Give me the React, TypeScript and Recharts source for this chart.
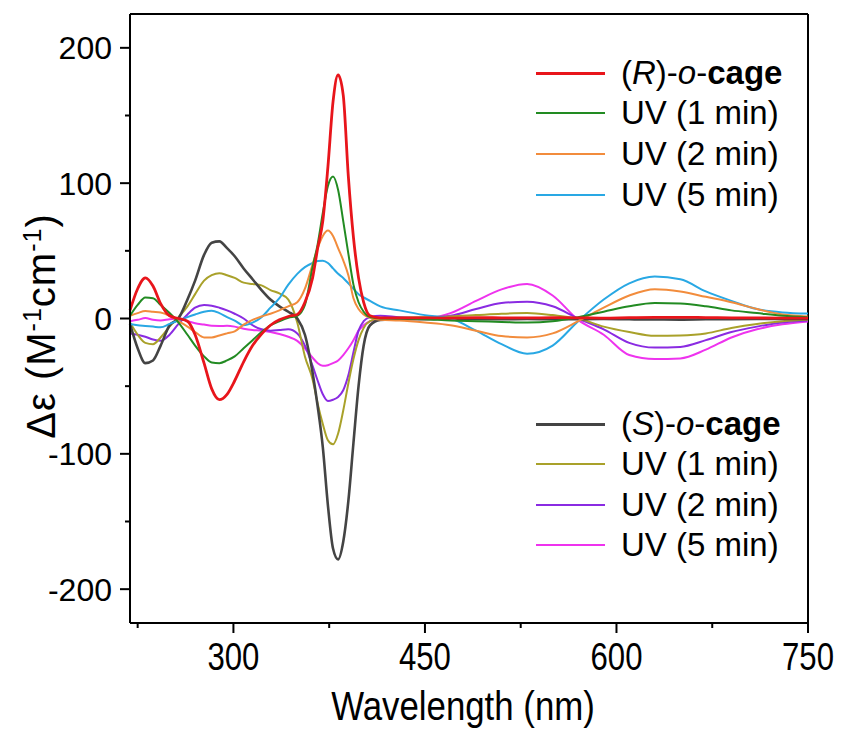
import React from 'react';
import { LineChart, Line, XAxis, YAxis, ReferenceLine } from 'recharts';

// wavelength grid (nm) shared by all spectra
const WAVELENGTH = [
  219, 225, 231, 237, 243, 250, 257, 264, 270, 277, 283, 289, 295, 301, 308, 315, 322, 329, 336, 343,
  350, 356, 362, 366, 370, 374, 378, 382, 386, 390, 394, 398, 402, 407, 415, 430, 450, 470, 490, 510,
  530, 550, 570, 590, 610, 630, 650, 670, 690, 710, 730, 750,
];

// (R)-o-cage and its UV-irradiated spectra
const R_CAGE = [
  6, 22, 30, 24, 11, 2, 0, -2, -12, -33, -52, -60, -56, -46, -32, -20, -11.5, -5, -1, 1.5,
  3, 12, 30, 52, 72, 112, 160, 180, 165, 105, 60, 30, 12, 2, 0.5, 0.5, 0.5, 0.3, 0.6, 0.5,
  0.4, 0.6, 0.5, 0.3, 0.6, 0.8, 0.9, 0.7, 0.5, 0.4, 0.3, 0.3,
];
const R_UV1 = [
  2, 10, 15.5, 15, 10, 4, -3, -12, -20, -28, -32.5, -33, -31, -28, -22, -16, -10, -5, -2, 0.5,
  2, 10, 38, 55, 78, 98, 105, 95, 72, 48, 25, 12, 5, 1, 0, 0, -0.5, -1.5, -2, -2.5,
  -3, -2, 1, 5, 9, 11.4, 11, 9, 6, 4, 2, 1,
];
const R_UV2 = [
  2, 4, 5.5, 5, 4.5, 2, -2, -6, -10, -14, -14, -12.5, -11, -9.5, -4.5, -1, 1.5, 3.5, 6, 9,
  12, 22, 40, 52, 61, 65, 61, 52, 43, 32, 15, 7, 3, 0.5, -1, -1.5, -3, -5, -9, -13,
  -14, -11, -2, 8, 17, 21.7, 20, 16, 12, 7, 3, 1.5,
];
const R_UV5 = [
  -4, -5, -5.5, -6, -6.5, -4, -1.5, 1, 3, 5, 5.7, 4, 1, -1.5, -5, -3, 1, 8, 15, 25,
  33, 38, 41, 42.5, 42.7, 41, 37, 33, 30, 26, 22, 18, 15.6, 13, 9, 6, 2.5, 0, -9, -19,
  -26, -20, -2, 14, 26, 31, 29, 20, 13, 7, 4.5, 3.7,
];

// (S)-o-cage and its UV-irradiated spectra
const S_CAGE = [
  -4, -22, -33, -31, -20, -5, 0, 14, 28, 47, 56, 57, 52, 46, 37, 29, 21, 14, 9, 5,
  0, -12, -40, -65, -95, -138, -170, -178, -165, -135, -92, -50, -20, -5, -1, -0.5, -0.5, -0.3, -0.5, -0.6,
  -0.4, -0.5, -0.5, -0.4, -0.6, -0.7, -0.8, -0.6, -0.5, -0.4, -0.3, -0.3,
];
const S_UV1 = [
  -3, -12, -18, -19, -14, -6, 1, 9, 18, 28, 32, 33.5, 32, 30, 26.5, 25.5, 24.5, 21, 18.5, 14,
  -3, -28, -45, -63, -78, -90, -93, -85, -68, -48, -30, -16, -7, -2, 0, 0.5, 1, 1.5, 2.5, 3.5,
  4, 2.5, 0, -6, -10, -12.8, -12.5, -11, -7, -4, -2, -1,
];
const S_UV2 = [
  -11, -12, -13.5, -15.5, -16.5, -12, -4, 3, 8, 10, 9.5, 8, 6, 3.5, 0, -5, -8, -9, -8.5, -8,
  -11, -20, -35, -46, -56, -61, -60, -58, -53, -42, -25, -9, -2, 1, 2, 1, 0.5, 2, 7, 11.5,
  12.4, 9, 0, -8, -18, -21.5, -21, -16, -10, -6, -3, -1.5,
];
const S_UV5 = [
  -2, -1, 0.3, -1, -1.5, -0.5, 0, -2, -3.5, -4.5, -5.4, -5.5, -5.4, -6, -7.5, -8.5, -9, -10, -11.5, -13.5,
  -16.5, -22, -29, -33, -35, -34.5, -33, -31, -27, -22, -16, -9, -5, -2, -0.5, -0.5, 0, 4, 13, 21.5,
  25.5, 17, -1, -12, -27, -30, -29.5, -23, -14, -8, -4.3, -2.2,
];

const X_TICKS = [225, 300, 375, 450, 525, 600, 675, 750];
const Y_TICKS = [-200, -150, -100, -50, 0, 50, 100, 150, 200];

const data = WAVELENGTH.map((wl, i) => ({
  wl,
  rCage: R_CAGE[i],
  rUv1: R_UV1[i],
  rUv2: R_UV2[i],
  rUv5: R_UV5[i],
  sCage: S_CAGE[i],
  sUv1: S_UV1[i],
  sUv2: S_UV2[i],
  sUv5: S_UV5[i],
}));

const series = [
  { key: 'sUv5', color: '#ee33ee', width: 2 },
  { key: 'sUv2', color: '#8a2be2', width: 2 },
  { key: 'sUv1', color: '#a9a12a', width: 2 },
  { key: 'sCage', color: '#444444', width: 2.6 },
  { key: 'rUv5', color: '#29a8e4', width: 2 },
  { key: 'rUv2', color: '#f28c3c', width: 2 },
  { key: 'rUv1', color: '#228b22', width: 2 },
  { key: 'rCage', color: '#e8151b', width: 2.8 },
];
const colorOf = (k: string) => series.find((s) => s.key === k)!.color;

const FONT = '"Liberation Sans", Arial, sans-serif';

const XTick = (props: any) => {
  const { x, y, payload } = props;
  const major = (payload.value - 300) % 150 === 0;
  return (
    <g>
      <line x1={x} x2={x} y1={y} y2={y + (major ? 10 : 5)} stroke="#000" strokeWidth={2} />
      {major && (
        <text
          transform={`translate(${x},${y + 47}) scale(0.82,1)`}
          textAnchor="middle"
          fontSize={38}
          fontFamily={FONT}
          fill="#000"
        >
          {payload.value}
        </text>
      )}
    </g>
  );
};

const YTick = (props: any) => {
  const { x, y, payload } = props;
  const major = payload.value % 100 === 0;
  return (
    <g>
      <line x1={x - (major ? 10 : 5)} x2={x} y1={y} y2={y} stroke="#000" strokeWidth={2} />
      {major && (
        <text x={x - 18} y={y + 11.5} textAnchor="end" fontSize={32} fontFamily={FONT} fill="#000">
          {payload.value}
        </text>
      )}
    </g>
  );
};

const legendRow = (key: string, label: React.ReactNode, top: number, thick: boolean) => (
  <div key={key} style={{ position: 'absolute', left: 528, top: top - 20, height: 40, display: 'flex', alignItems: 'center' }}>
    <div style={{ width: 69, height: thick ? 3 : 2.2, background: colorOf(key) }} />
    <div style={{ marginLeft: 16, fontSize: 33, fontFamily: FONT, color: '#000', whiteSpace: 'nowrap' }}>{label}</div>
  </div>
);

export default function App() {
  return (
    <div style={{ position: 'relative', width: 834, height: 721 }}>
      <LineChart width={834} height={713} data={data} margin={{ top: 6, right: 34, left: 0, bottom: 0 }}>
        <XAxis
          dataKey="wl"
          type="number"
          domain={[219, 750]}
          ticks={X_TICKS}
          height={98}
          tickSize={0}
          tickMargin={0}
          tickLine={false}
          axisLine={{ stroke: '#000', strokeWidth: 2 }}
          tick={<XTick />}
          interval={0}
        />
        <YAxis
          type="number"
          domain={[-225, 225]}
          ticks={Y_TICKS}
          width={122}
          tickSize={0}
          tickMargin={0}
          tickLine={false}
          axisLine={{ stroke: '#000', strokeWidth: 2 }}
          tick={<YTick />}
          interval={0}
        />
        <ReferenceLine y={225} stroke="#000" strokeWidth={2} />
        <ReferenceLine x={750} stroke="#000" strokeWidth={2} />
        {series.map((s) => (
          <Line
            key={s.key}
            dataKey={s.key}
            type="monotone"
            stroke={s.color}
            strokeWidth={s.width}
            dot={false}
            isAnimationActive={false}
          />
        ))}
      </LineChart>

      <div
        style={{
          position: 'absolute',
          left: 33,
          top: 318,
          transform: 'translate(-50%, -50%) rotate(-90deg)',
          fontSize: 40,
          letterSpacing: 1,
          fontFamily: FONT,
          whiteSpace: 'nowrap',
          color: '#000',
        }}
      >
        Δε (M<sup style={{ fontSize: 25 }}>-1</sup>cm<sup style={{ fontSize: 25 }}>-1</sup>)
      </div>

      <div
        style={{
          position: 'absolute',
          left: 455,
          top: 676,
          transform: 'translateX(-50%) scale(0.87, 1)',
          fontSize: 40,
          lineHeight: '44px',
          fontFamily: FONT,
          whiteSpace: 'nowrap',
          color: '#000',
        }}
      >
        Wavelength (nm)
      </div>

      {legendRow('rCage', <>(<i>R</i>)-<i>o</i>-<b>cage</b></>, 65, true)}
      {legendRow('rUv1', 'UV (1 min)', 105, false)}
      {legendRow('rUv2', 'UV (2 min)', 146, false)}
      {legendRow('rUv5', 'UV (5 min)', 187, false)}

      {legendRow('sCage', <>(<i>S</i>)-<i>o</i>-<b>cage</b></>, 416, true)}
      {legendRow('sUv1', 'UV (1 min)', 456, false)}
      {legendRow('sUv2', 'UV (2 min)', 497, false)}
      {legendRow('sUv5', 'UV (5 min)', 537, false)}
    </div>
  );
}
